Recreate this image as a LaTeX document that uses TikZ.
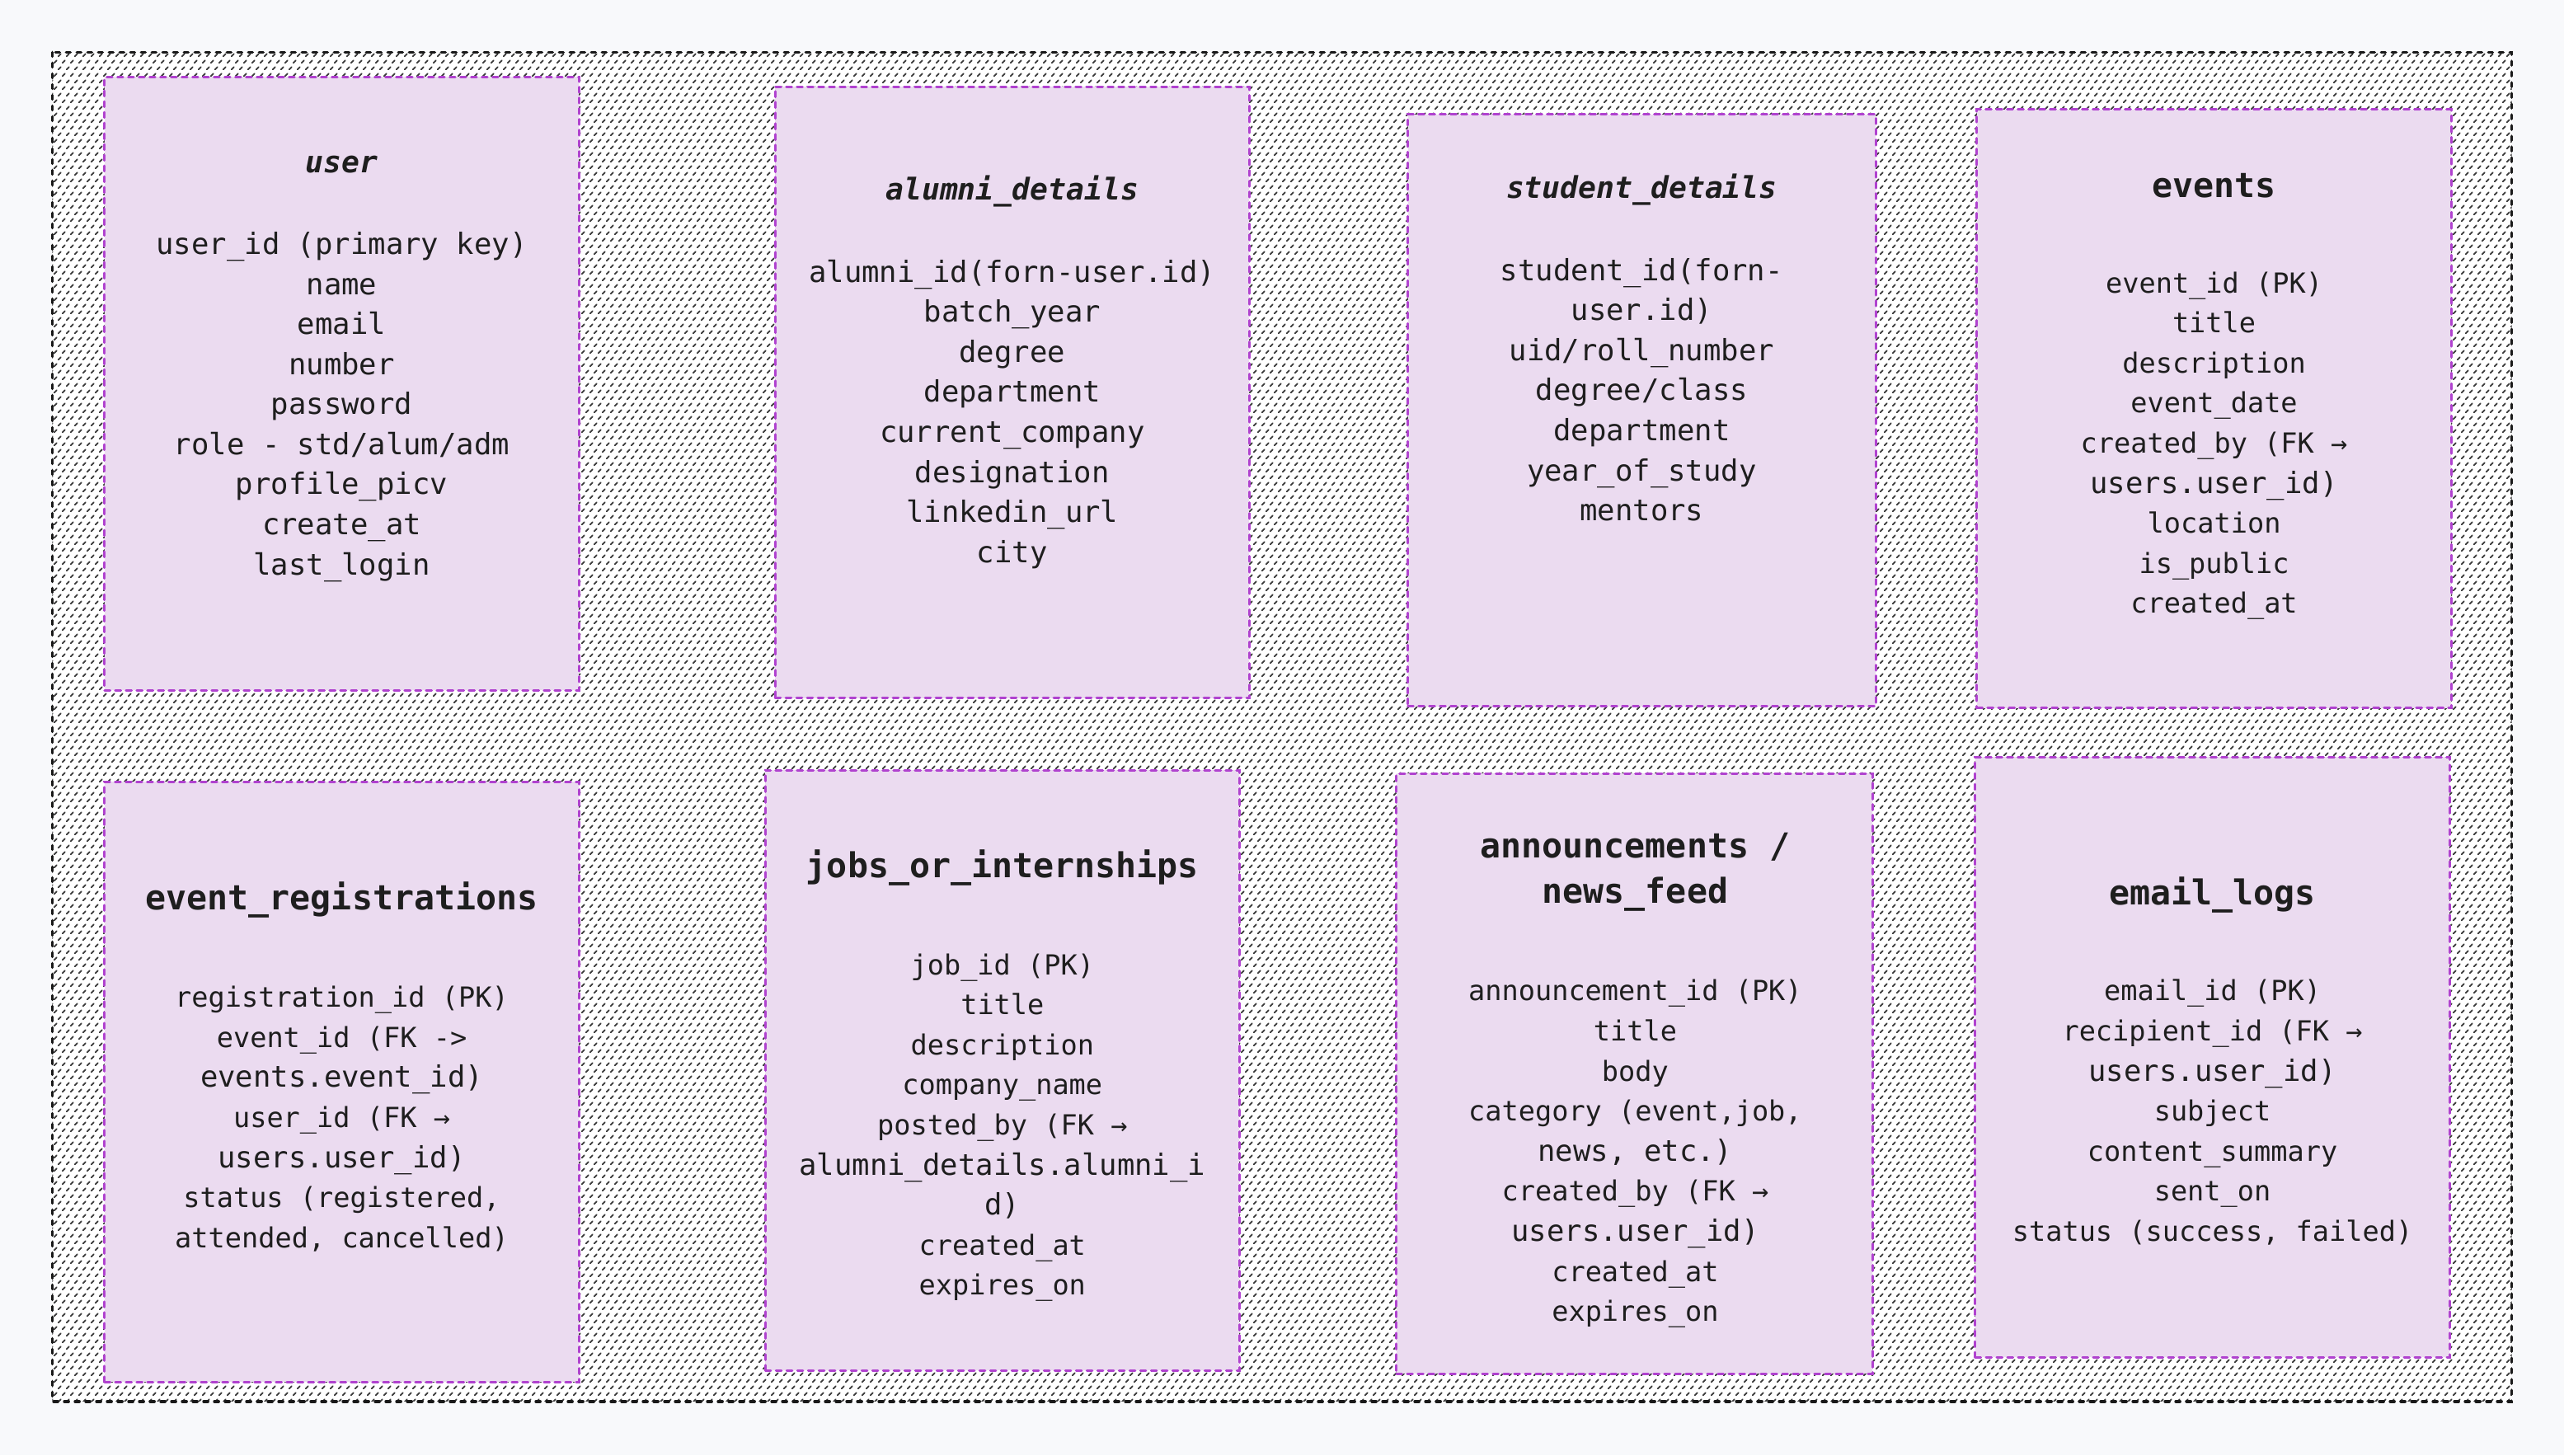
\documentclass[tikz,border=0pt]{standalone}
\usepackage{fontspec}
\setmonofont{DejaVu Sans Mono}
\usetikzlibrary{patterns}
\definecolor{pagebg}{HTML}{F8F9FB}
\definecolor{boxfill}{HTML}{EBDBF0}
\definecolor{boxline}{HTML}{B042CF}
\definecolor{ink}{HTML}{1E1E1E}
\definecolor{hatchc}{HTML}{3A3A3A}
\pgfdeclarepatternformonly{dashhatch}{\pgfqpoint{-1pt}{-1pt}}{\pgfqpoint{6pt}{9pt}}{\pgfqpoint{5pt}{8pt}}{%
  \pgfsetlinewidth{0.9pt}\pgfsetroundcap
  \pgfpathmoveto{\pgfqpoint{0.4pt}{0.4pt}}\pgfpathlineto{\pgfqpoint{1.9pt}{1.9pt}}
  \pgfpathmoveto{\pgfqpoint{2.9pt}{4.4pt}}\pgfpathlineto{\pgfqpoint{4.4pt}{5.9pt}}
  \pgfusepath{stroke}}
\newcommand\bigln{\fontsize{17.8}{20}\selectfont}
\newcommand\tbox[5]{\node[tbl, minimum width={(#4-#2)*0.99171pt}, minimum height={(#5-#3)*0.99171pt}] (#1) at ({(#2+#4)/2},{(#3+#5)/2}) {};}
\newcommand\tblfields[5]{\foreach \t [count=\i] in {#5} \node[#4] (#1\i) at (#2,{#3+24.5*(\i-1)}) {\t};}
\begin{document}
\begin{tikzpicture}[x=0.99171pt,y=-0.99171pt,
  tbl/.style={draw=boxline, fill=boxfill, line width=1.5pt, line cap=round, dash pattern=on 3.3pt off 3.2pt, inner sep=0, outer sep=0},
  fld/.style={font=\fontsize{16.8}{20}\selectfont\ttfamily, text=ink, anchor=base, inner sep=0},
  fldA/.style={font=\fontsize{17.8}{20}\selectfont\ttfamily, text=ink, anchor=base, inner sep=0},
  ttlA/.style={font=\fontsize{18.2}{22}\selectfont\ttfamily\bfseries\itshape, text=ink, anchor=base, inner sep=0},
  ttlB/.style={font=\fontsize{20.8}{24}\selectfont\ttfamily\bfseries, text=ink, anchor=base, inner sep=0}]
\fill[pagebg] (0,0) rectangle (1568,889.9);
\useasboundingbox (0,0) rectangle (1568,889.9);
% outer hatched frame
\fill[white] (32,32) rectangle (1536,857);
\path[pattern=dashhatch, pattern color=hatchc] (32,32) rectangle (1536,857);
\draw[black!90, line width=1.8pt, line cap=round, dash pattern=on 2.5pt off 4pt] (32,32) rectangle (1536,857);
% tables
\tbox{user}{64}{47}{354}{422}
\tbox{alumni}{474}{53}{764}{427}
\tbox{student}{861}{70}{1147}{432}
\tbox{events}{1209}{67}{1499}{433}
\tbox{evreg}{64}{478}{354}{845}
\tbox{jobs}{468}{471}{758}{838}
\tbox{ann}{854}{473}{1145}{840}
\tbox{email}{1208}{463}{1498}{830}
% titles
\node[ttlA] (userT) at (209,105.5) {user};
\node[ttlA] (alumniT) at (619,122.5) {alumni\_details};
\node[ttlA] (studentT) at (1004,121.5) {student\_details};
\node[ttlB] (eventsT) at (1354,120.5) {events};
\node[ttlB] (evregT) at (209,556.5) {event\_registrations};
\node[ttlB] (jobsT) at (613,536.5) {jobs\_or\_internships};
\node[ttlB] (annT) at (1000,524.5) {announcements /};
\node[ttlB] (annT2) at (1000,552.5) {news\_feed};
\node[ttlB] (emailT) at (1353,553.5) {email\_logs};
% fields
\tblfields{uf}{209}{155.5}{fldA}{user\_id (primary key), name, email, number, password, role - std/alum/adm, profile\_picv, create\_at, last\_login}
\tblfields{af}{619}{172.5}{fldA}{alumni\_id(forn-user.id), batch\_year, degree, department, current\_company, designation, linkedin\_url, city}
\tblfields{sf}{1004}{171.5}{fldA}{student\_id(forn-, user.id), uid/roll\_number, degree/class, department, year\_of\_study, mentors}
\tblfields{ef}{1354}{179}{fld}{event\_id (PK), title, description, event\_date, created\_by (FK →, \bigln users.user\_id), location, is\_public, created\_at}
\tblfields{rf}{209}{616}{fld}{registration\_id (PK), event\_id (FK ->, \bigln events.event\_id), user\_id (FK →, \bigln users.user\_id), {status (registered,}, {attended, cancelled)}}
\tblfields{jf}{613}{596}{fld}{job\_id (PK), title, description, company\_name, posted\_by (FK →, \bigln alumni\_details.alumni\_i, \bigln d), created\_at, expires\_on}
\tblfields{nf}{1000}{612}{fld}{announcement\_id (PK), title, body, {category (event,job,}, {\bigln news, etc.)}, created\_by (FK →, \bigln users.user\_id), created\_at, expires\_on}
\tblfields{mf}{1353}{612}{fld}{email\_id (PK), recipient\_id (FK →, \bigln users.user\_id), subject, content\_summary, sent\_on, {status (success, failed)}}
\end{tikzpicture}
\end{document}
